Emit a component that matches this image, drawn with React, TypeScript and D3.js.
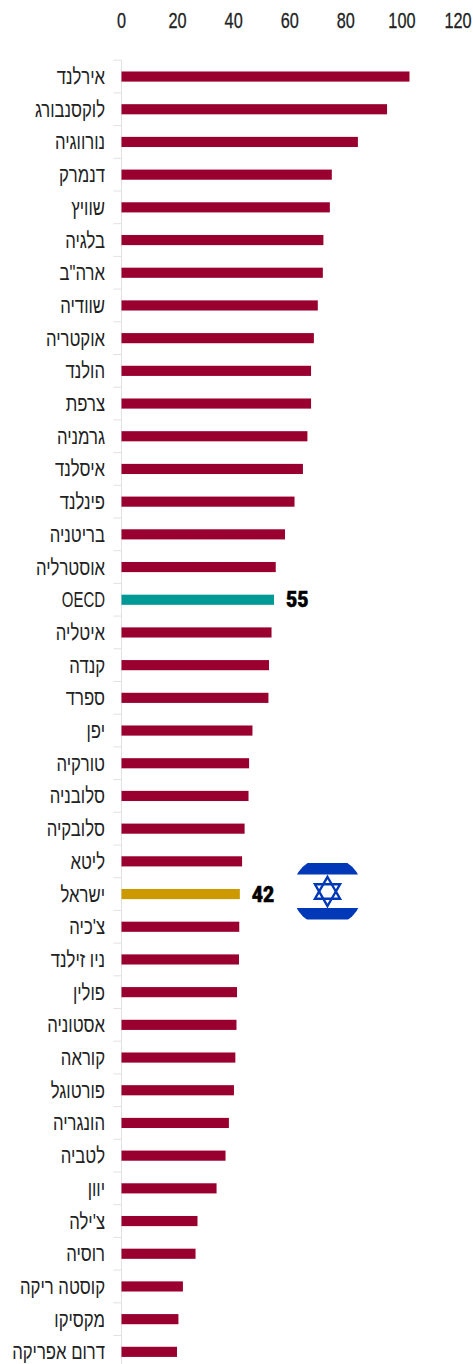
import React from "react";
import * as d3 from "d3";

const categories = ["אירלנד","לוקסנבורג","נורווגיה","דנמרק","שוויץ","בלגיה","ארה\"ב","שוודיה","אוקטריה","הולנד","צרפת","גרמניה","איסלנד","פינלנד","בריטניה","אוסטרליה","OECD","איטליה","קנדה","ספרד","יפן","טורקיה","סלובניה","סלובקיה","ליטא","ישראל","צ'כיה","ניו זילנד","פולין","אסטוניה","קוראה","פורטוגל","הונגריה","לטביה","יוון","צ'ילה","רוסיה","קוסטה ריקה","מקסיקו","דרום אפריקה"];
const values = [102.7,94.7,84.3,75,74.3,72,71.8,70,68.6,67.6,67.6,66.3,64.7,61.7,58.3,55,54.4,53.5,52.6,52.4,46.7,45.5,45.3,43.9,43,42.2,42,41.9,41.2,41,40.6,40.1,38.3,37.1,33.9,27.1,26.4,21.9,20.3,19.8];
const xTicks = [0,20,40,60,80,100,120];
const highlightColors: Record<string,string> = { OECD: "#009a96", "ישראל": "#cc9900" };
const valueLabels: Record<string,string> = { OECD: "55", "ישראל": "42" };
const barColor = "#99002f";

const x = d3.scaleLinear().domain([0,120]).range([121.5,458]);
const y = d3.scaleBand<string>().domain(categories).range([60.2,1368.2]).paddingInner(0.69).paddingOuter(0.345);
const font = "'Liberation Sans',sans-serif";
const squeeze = (px:number,s:number)=>`translate(${px} 0) scale(${s} 1) translate(${-px} 0)`;

function Flag({cx,cy}:{cx:number;cy:number}){
  const r=14.5;
  const tri=(s:number)=>d3.range(3).map(i=>{const a=-Math.PI/2+i*2*Math.PI/3;return `${cx+r*Math.cos(a)},${cy+s*r*Math.sin(a)}`;}).join(" ");
  return <g>
    <clipPath id="fc"><circle cx={cx} cy={cy} r={35}/></clipPath>
    <g clipPath="url(#fc)" fill="#0038b8">
      <rect x={cx-31.5} y={cy-28.5} width={63} height={11.5}/>
      <rect x={cx-31.5} y={cy+16.5} width={63} height={11.5}/>
    </g>
    <polygon points={tri(1)} fill="none" stroke="#0038b8" strokeWidth={2.4}/>
    <polygon points={tri(-1)} fill="none" stroke="#0038b8" strokeWidth={2.4}/>
  </g>;
}

export default function App(){
  const step=y.step();
  const top=y.range()[0];
  return <svg width={473} height={1364} style={{position:"absolute",left:0,top:0,background:"#fff"}}>
    <line x1={121.5} x2={121.5} y1={top} y2={1368} stroke="#e2e2e2"/>
    {d3.range(categories.length+1).map(i=><line key={i} x1={113.5} x2={121.5} y1={top+i*step} y2={top+i*step} stroke="#e2e2e2"/>)}
    {xTicks.map(t=><text key={t} x={x(t)} y={28.5} textAnchor="middle" fontFamily={font} fontSize={22} fill="#222" stroke="#222" strokeWidth={0.3} transform={squeeze(x(t),0.74)}>{t}</text>)}
    {categories.map((c,i)=>{
      const by=y(c)!;const cy=by+y.bandwidth()/2;
      const vx=x(values[i])+12;
      return <g key={c}>
        <text x={105} y={cy+7.5} textAnchor="end" fontFamily={font} fontSize={22} fill="#222" transform={squeeze(105,c==="OECD"?0.68:0.76)}>{c}</text>
        <rect x={x(0)} y={by} width={x(values[i])-x(0)} height={y.bandwidth()} fill={highlightColors[c]??barColor}/>
        {valueLabels[c]&&<text x={vx} y={cy+7.5} fontFamily="Roboto,sans-serif" fontWeight={900} fontSize={22} fill="#000" stroke="#000" strokeWidth={0.5} transform={squeeze(vx,0.88)}>{valueLabels[c]}</text>}
      </g>;
    })}
    <Flag cx={327.5} cy={891.5}/>
  </svg>;
}
